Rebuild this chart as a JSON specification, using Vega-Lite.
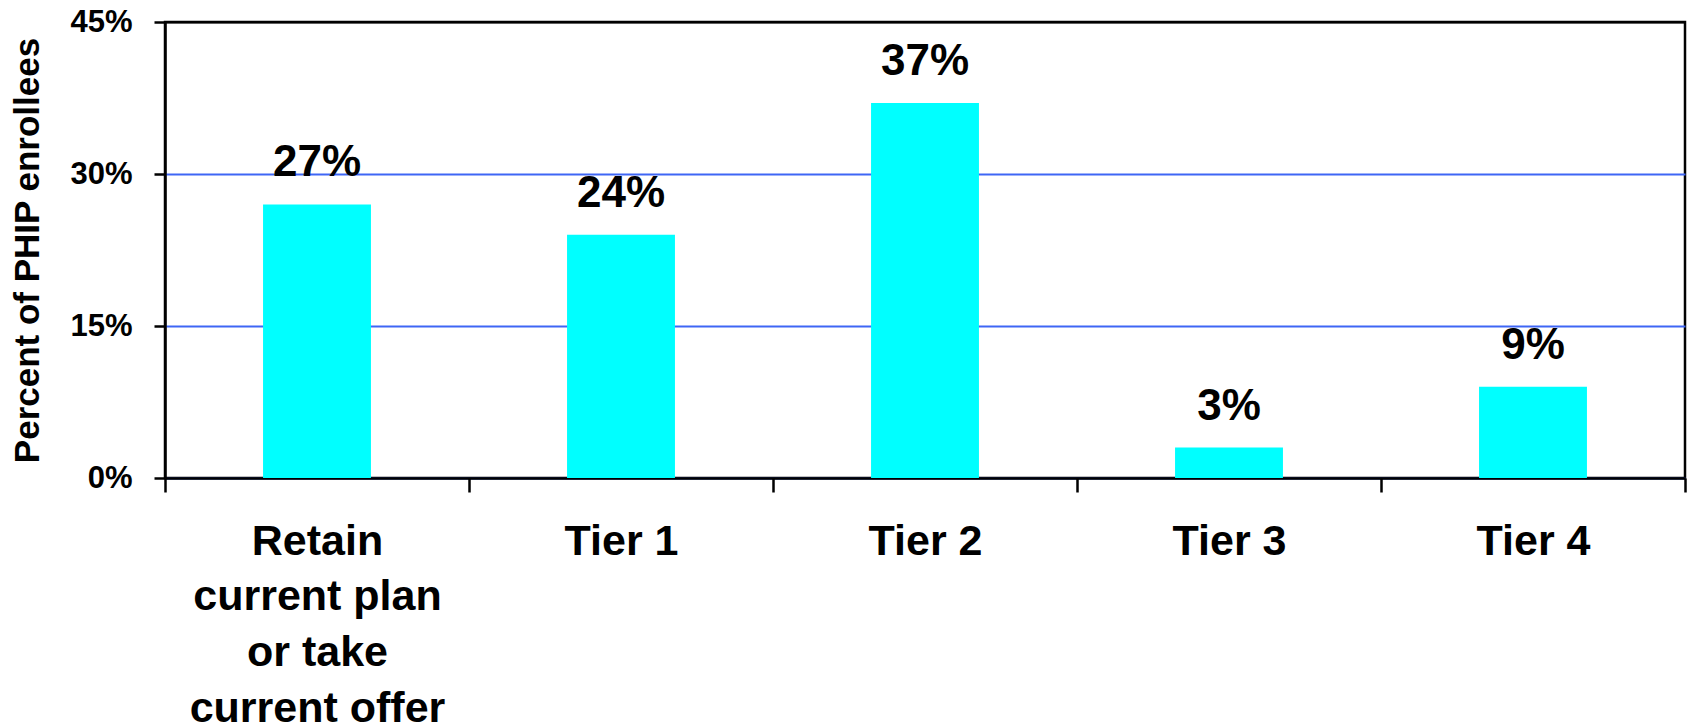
{
  "$schema": "https://vega.github.io/schema/vega-lite/v6.json",
  "width": 1520,
  "height": 456,
  "autosize": "none",
  "padding": {"left": 165, "top": 22, "right": 4, "bottom": 247},
  "background": "white",
  "config": {
    "font": "Liberation Sans",
    "view": {"stroke": "black", "strokeWidth": 2.5}
  },
  "data": {
    "values": [
      {"category": "Retain|current plan|or take|current offer", "order": 1, "value": 0.27, "text": "27%"},
      {"category": "Tier 1", "order": 2, "value": 0.24, "text": "24%"},
      {"category": "Tier 2", "order": 3, "value": 0.37, "text": "37%"},
      {"category": "Tier 3", "order": 4, "value": 0.03, "text": "3%"},
      {"category": "Tier 4", "order": 5, "value": 0.09, "text": "9%"}
    ]
  },
  "encoding": {
    "x": {
      "field": "category",
      "type": "nominal",
      "sort": {"field": "order"},
      "scale": {"paddingInner": 0, "paddingOuter": 0},
      "axis": {
        "title": null,
        "labelAngle": 0,
        "labelExpr": "split(datum.label, '|')",
        "labelFont": "Liberation Sans",
        "labelFontWeight": "bold",
        "labelFontSize": 43,
        "labelLineHeight": 55.7,
        "labelLimit": 0,
        "labelColor": "black",
        "labelPadding": 28,
        "labelBaseline": "top",
        "tickBand": "extent",
        "tickSize": 14,
        "tickWidth": 2.5,
        "tickColor": "black",
        "domainColor": "black",
        "domainWidth": 2.5,
        "grid": false
      }
    },
    "y": {
      "field": "value",
      "type": "quantitative",
      "scale": {"domain": [0, 0.45], "nice": false},
      "axis": {
        "title": "Percent of PHIP enrollees",
        "titleFont": "Liberation Sans",
        "titleFontWeight": "bold",
        "titleFontSize": 35,
        "titleColor": "black",
        "titlePadding": 24,
        "values": [0, 0.15, 0.3, 0.45],
        "format": ".0%",
        "labelFont": "Liberation Sans",
        "labelFontWeight": "bold",
        "labelFontSize": 31,
        "labelColor": "black",
        "labelPadding": 22,
        "tickSize": 11,
        "tickWidth": 2.5,
        "tickColor": "black",
        "domainColor": "black",
        "domainWidth": 2.5,
        "grid": true,
        "gridColor": {"condition": {"test": "datum.value >= 0.45", "value": "black"}, "value": "#3F66F5"},
        "gridWidth": 2
      }
    }
  },
  "layer": [
    {
      "mark": {"type": "bar", "color": "#00FFFF", "width": {"band": 0.355}}
    },
    {
      "mark": {"type": "text", "font": "Liberation Sans", "fontWeight": "bold", "fontSize": 44, "baseline": "alphabetic", "dy": -28, "color": "black"},
      "encoding": {"text": {"field": "text"}}
    }
  ]
}
